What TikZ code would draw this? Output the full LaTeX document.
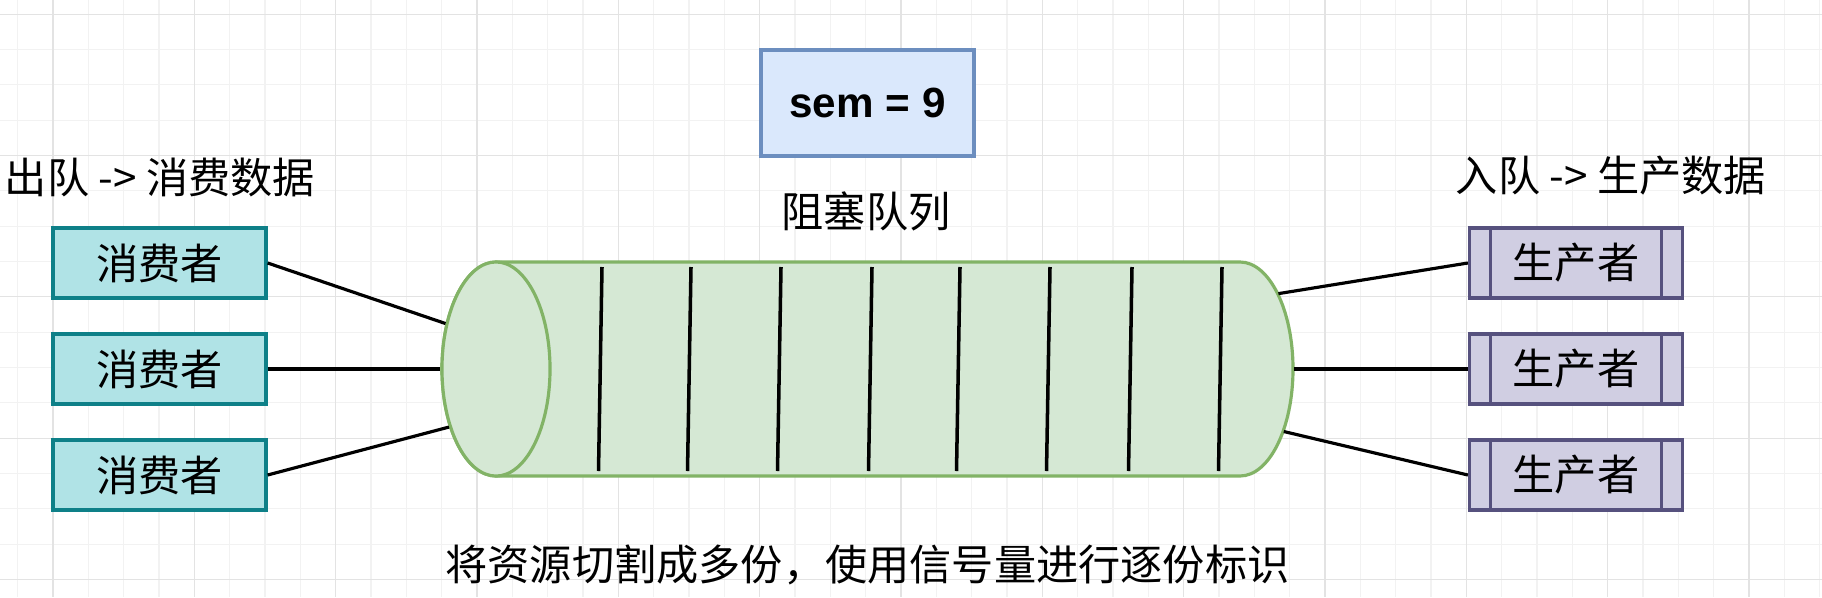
\documentclass[tikz,border=0pt]{standalone}
\usepackage{fontspec}
\newfontfamily\cjk{Noto Sans CJK SC}
\newfontfamily\semfont{Liberation Sans}
\newcommand{\cjktext}{\cjk\fontsize{12}{14}\selectfont}
\usetikzlibrary{shapes.geometric}

\definecolor{consumerfill}{HTML}{B0E3E6}
\definecolor{consumerline}{HTML}{0E8088}
\definecolor{producerfill}{HTML}{D0CEE2}
\definecolor{producerline}{HTML}{56517E}
\definecolor{semfill}{HTML}{DAE8FC}
\definecolor{semline}{HTML}{6C8EBF}
\definecolor{queuefill}{HTML}{D5E8D4}
\definecolor{queueline}{HTML}{82B366}
\definecolor{gridminor}{HTML}{F2F2F2}
\definecolor{gridmajor}{HTML}{E3E3E3}

\begin{document}
\begin{tikzpicture}[x=0.01cm, y=-0.01cm,
  box/.style={draw=consumerline, fill=consumerfill, line width=0.9pt,
    minimum width=2.13cm, minimum height=0.70cm, inner sep=0pt, font=\cjktext},
  prodbox/.style={box, draw=producerline, fill=producerfill,
    path picture={\draw[producerline, line width=0.9pt]
      ([xshift=0.21cm]path picture bounding box.north west) -- ([xshift=0.21cm]path picture bounding box.south west)
      ([xshift=-0.21cm]path picture bounding box.north east) -- ([xshift=-0.21cm]path picture bounding box.south east);}},
  link/.style={line width=0.9pt, black},
  plaintext/.style={font=\cjktext, inner sep=0pt}
]

\useasboundingbox (0,0) rectangle (1822,597);
\fill[white] (0,0) rectangle (1822,597);

% grid
\foreach \i in {0,...,51}{
  \draw[gridminor, line width=0.3pt] ({17.67+35.333*\i},0) -- ++(0,597);
}
\foreach \j in {0,...,16}{
  \draw[gridminor, line width=0.3pt] (0,{14.3+35.333*\j}) -- ++(1822,0);
}
\foreach \i in {0,...,12}{
  \draw[gridmajor, line width=0.3pt] ({53+141.33*\i},0) -- ++(0,597);
}
\foreach \j in {0,...,4}{
  \draw[gridmajor, line width=0.3pt] (0,{14.3+141.33*\j}) -- ++(1822,0);
}

% the queue
\filldraw[draw=queueline, fill=queuefill, line width=0.9pt]
  (496,262) -- (1240,262) arc[start angle=-90, end angle=90, x radius=53, y radius=107]
  -- (496,476) arc[start angle=90, end angle=270, x radius=54, y radius=107] -- cycle;
\node[ellipse, draw=queueline, fill=queuefill, line width=0.9pt,
  minimum width=1.08cm, minimum height=2.14cm, inner sep=0pt] (qin) at (496,369) {};
\node[ellipse, minimum width=1.06cm, minimum height=2.14cm, inner sep=0pt] (qout) at (1240,369) {};

\foreach \sx in {602,691,781,872,960,1050,1132,1222}{
  \draw[black, line width=1pt] (\sx,267) -- (\sx-3.5,471);
}

% consumers and producers
\foreach \yy/\nm in {263/1, 369/2, 475/3}{
  \node[box] (c\nm) at (159.5,\yy) {消费者};
  \node[prodbox] (p\nm) at (1576,\yy) {生产者};
}

\draw[link] (c1.east) -- (qin.138);
\draw[link] (c2.east) -- (qin.west);
\draw[link] (c3.east) -- (qin.231);
\draw[link] (p1.west) -- (qout.63);
\draw[link] (p2.west) -- (qout.east);
\draw[link] (p3.west) -- (qout.-55);

% texts
\node[plaintext] (deq) at (160,178) {出队 -> 消费数据};
\node[plaintext] (enq) at (1611,176) {入队 -> 生产数据};
\node[plaintext] (qname) at (866,211) {阻塞队列};
\node[draw=semline, fill=semfill, line width=0.9pt, minimum width=2.13cm, minimum height=1.06cm,
  font=\semfont\bfseries\fontsize{12}{14}\selectfont] (sem) at (867.5,103) {sem = 9};
\node[plaintext] (note) at (867.5,565) {将资源切割成多份，使用信号量进行逐份标识};

\end{tikzpicture}
\end{document}
